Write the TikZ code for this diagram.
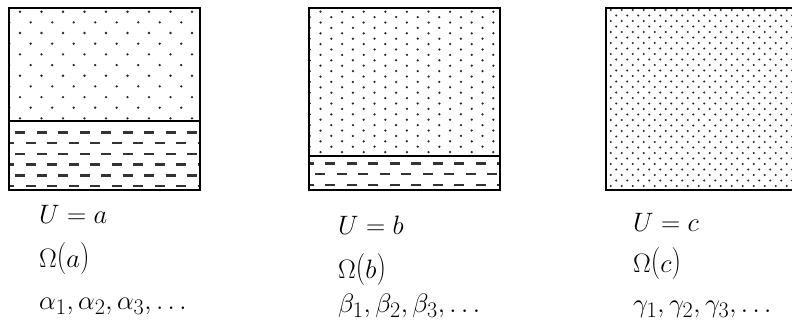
\documentclass[tikz,border=0pt]{standalone}
\newcommand{\tallL}{\mathopen{\raisebox{0.03em}{\scalebox{1}[1.2]{$($}}}}
\newcommand{\tallR}{\mathclose{\raisebox{0.03em}{\scalebox{1}[1.2]{$)$}}}}
\begin{document}
\begin{tikzpicture}[x=1pt,y=-1pt]
\tikzset{
  dotfill/.style={fill=black!85},
  frame/.style={line width=1.8pt},
  dashbar/.style={line width=2.5pt, draw=black!80},
  lbl/.style={anchor=base west, inner sep=0pt, font=\fontsize{24.88}{30}\selectfont, transform shape, scale=1.07}
}
\useasboundingbox (0,0) rectangle (792,333);
\clip (0,0) rectangle (792,333);

% ---------- Box 1 ----------
\begin{scope}
\clip (8.7,8.3) rectangle (200,190);
\foreach \i in {0,...,10} {
  \pgfmathsetmacro{\yy}{11.7+10.67*\i}
  \pgfmathsetmacro{\xo}{mod(\i,2)==0 ? 20 : 9.2}
  \foreach \k in {0,...,9} { \fill[dotfill] ({\xo+21.5*\k},\yy) circle (1.3); }
}
\foreach \j in {0,...,5} {
  \pgfmathsetmacro{\yy}{132.3+10.75*\j}
  \pgfmathsetmacro{\xo}{mod(\j,2)==0 ? 20 : 9.2}
  \foreach \k in {0,...,9} { \draw[dashbar] ({\xo+21.5*\k-5},\yy) -- ++(10,0); }
}
\end{scope}
\draw[frame] (8.7,8.3) rectangle (200,190);
\draw[frame] (8.7,120.7) -- (200,120.7);

% ---------- Box 2 ----------
\begin{scope}
\clip (309,8.3) rectangle (500,190);
\foreach \i in {0,...,26} {
  \pgfmathsetmacro{\yy}{11.7+5.4*\i}
  \pgfmathsetmacro{\xo}{mod(\i,2)==0 ? 320.5 : 309.7}
  \foreach \k in {0,...,9} { \fill[dotfill] ({\xo+21.6*\k},\yy) circle (1.25); }
}
\foreach \j in {0,...,2} {
  \pgfmathsetmacro{\yy}{163.3+10.85*\j}
  \pgfmathsetmacro{\xo}{mod(\j,2)==0 ? 308.5 : 320}
  \foreach \k in {0,...,9} { \draw[dashbar] ({\xo+21.5*\k-5},\yy) -- ++(10,0); }
}
\end{scope}
\draw[frame] (309,8.3) rectangle (500,190);
\draw[frame] (309,156) -- (500,156);

% ---------- Box 3 ----------
\begin{scope}
\clip (605.7,8.3) rectangle (800,190);
\foreach \i in {0,...,32} {
  \pgfmathsetmacro{\yy}{10+5.5*\i}
  \pgfmathsetmacro{\xo}{mod(\i,2)==0 ? 610.7 : 605.2}
  \foreach \k in {0,...,17} { \fill[dotfill] ({\xo+11*\k},\yy) circle (1.2); }
}
\end{scope}
\draw[frame] (605.7,8.3) rectangle (800,190);

% ---------- Labels ----------
\node[lbl] (ua) at (39,223) {$U=a$};
\node[lbl] (oa) at (39,267) {$\Omega\tallL a\tallR$};
\node[lbl] (aa) at (39,309) {$\alpha_1,\alpha_2,\alpha_3,\ldots$};

\node[lbl] (ub) at (338,234) {$U=b$};
\node[lbl] (ob) at (338,278) {$\Omega\tallL b\tallR$};
\node[lbl] (bb) at (338,312) {$\beta_1,\beta_2,\beta_3,\ldots$};

\node[lbl] (uc) at (633,231) {$U=c$};
\node[lbl] (oc) at (633,272) {$\Omega\tallL c\tallR$};
\node[lbl] (cc) at (633,312) {$\gamma_1,\gamma_2,\gamma_3,\ldots$};
\end{tikzpicture}
\end{document}
